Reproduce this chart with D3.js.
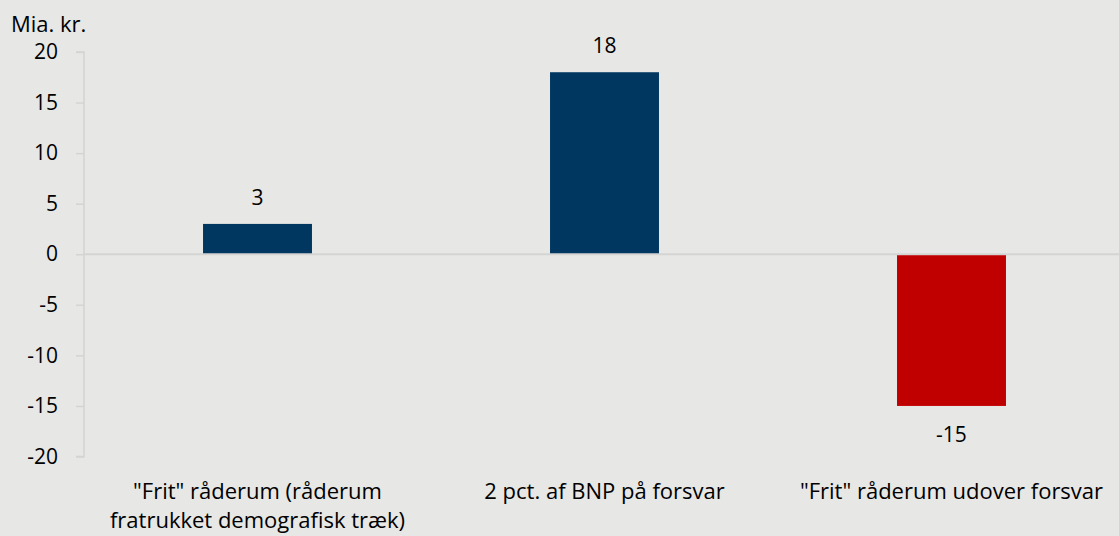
<!DOCTYPE html>
<html>
<head>
<meta charset="utf-8">
<script src="https://cdn.jsdelivr.net/npm/d3@7"></script>
<style>
  body { margin: 0; background: #e7e7e5; }
  svg text { font-family: "Open Sans", sans-serif; fill: #000; }
</style>
</head>
<body>
<svg id="chart" width="1119" height="536"></svg>
<script>
// Data
const categories = [
  ['"Frit" råderum (råderum', 'fratrukket demografisk træk)'],
  ['2 pct. af BNP på forsvar'],
  ['"Frit" råderum udover forsvar']
];
const values = [3, 18, -15];
const barColors = ['#003761', '#003761', '#c00000'];
const yTicks = [20, 15, 10, 5, 0, -5, -10, -15, -20];

const svg = d3.select('#chart');
const margin = { left: 84, top: 52, right: -6, bottom: 79 };
const width = 1119, height = 536;

const x = d3.scaleBand()
  .domain(d3.range(values.length))
  .range([margin.left, width - margin.right])
  .paddingInner(0.686)
  .paddingOuter(0.343);

const y = d3.scaleLinear()
  .domain([-20, 20])
  .range([height - margin.bottom - 0.5, margin.top]);

// unit label
svg.append('text')
  .attr('x', 11)
  .attr('y', 32)
  .style('font-size', '22px')
  .text('Mia. kr.');

// y axis
const yAxis = svg.append('g')
  .attr('transform', `translate(${margin.left},0)`)
  .call(d3.axisLeft(y).tickValues(yTicks).tickSize(8).tickPadding(18).tickFormat(d => String(d)));
yAxis.select('.domain').attr('stroke', '#d4d4d2').attr('stroke-width', 1.5)
  .attr('d', `M-8,${y(20)}H0V${y(-20)}H-8`);
yAxis.selectAll('.tick line').attr('stroke', '#d4d4d2').attr('stroke-width', 1.5);
yAxis.selectAll('.tick text').style('font-size', '21px').attr('fill', '#000');

// bars
svg.append('g').selectAll('rect')
  .data(values)
  .enter()
  .append('rect')
  .attr('x', (d, i) => x(i))
  .attr('width', x.bandwidth())
  .attr('y', d => y(Math.max(0, d)))
  .attr('height', d => Math.abs(y(d) - y(0)))
  .attr('fill', (d, i) => barColors[i]);

// zero line
svg.append('line')
  .attr('x1', margin.left)
  .attr('x2', width)
  .attr('y1', y(0))
  .attr('y2', y(0))
  .attr('stroke', '#d4d4d2')
  .attr('stroke-width', 2);

// value labels
svg.append('g').selectAll('text')
  .data(values)
  .enter()
  .append('text')
  .attr('x', (d, i) => x(i) + x.bandwidth() / 2)
  .attr('y', d => d >= 0 ? y(d) - 19 : y(d) + 36)
  .attr('text-anchor', 'middle')
  .style('font-size', '21px')
  .text(d => d);

// category labels (second line sits right at the bottom edge, as in the original)
const cat = svg.append('g').selectAll('text')
  .data(categories)
  .enter()
  .append('text')
  .attr('text-anchor', 'middle')
  .style('font-size', '22px')
  .attr('x', (d, i) => x(i) + x.bandwidth() / 2)
  .attr('y', 499);
cat.selectAll('tspan')
  .data(d => d)
  .enter()
  .append('tspan')
  .attr('x', function() { return d3.select(this.parentNode).attr('x'); })
  .attr('dy', (d, i) => i === 0 ? 0 : 29)
  .text(d => d);
</script>
</body>
</html>
